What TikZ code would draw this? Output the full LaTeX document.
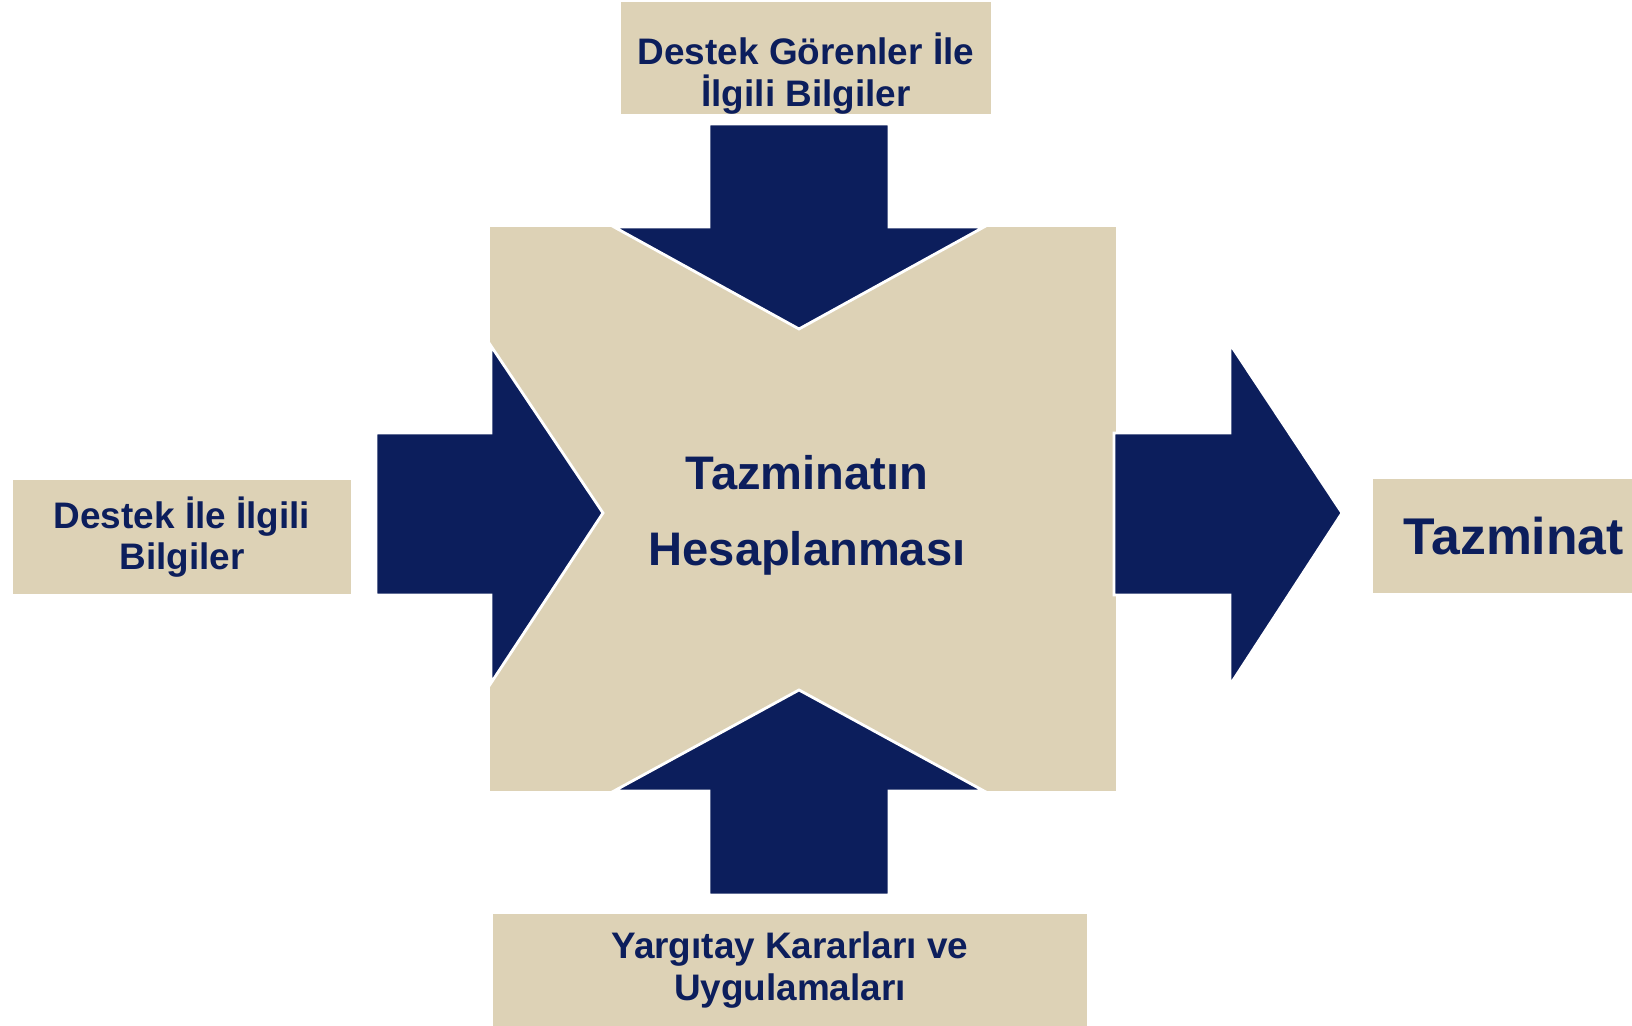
\documentclass[tikz,border=0pt]{standalone}
\usepackage{fontspec}
\setmainfont{Liberation Sans}
\usetikzlibrary{positioning}
\definecolor{navy}{RGB}{12,30,92}
\definecolor{sand}{RGB}{221,210,182}
\tikzstyle{infobox} = [fill=sand, text=navy, align=center, inner sep=0pt,
    font=\bfseries\fontsize{10.5}{11.7}\selectfont]
\tikzstyle{blockarrow} = [fill=navy, draw=white, line width=0.8pt, line join=miter]
\tikzset{boxtext/.style={text=navy, align=center, inner sep=0pt,
    font=\bfseries\fontsize{10.5}{11.7}\selectfont}}

\begin{document}
\begin{tikzpicture}
    \clip (0,0) rectangle (16.32,10.26);
    %center block
    \fill[sand] (4.90,2.35) rectangle (11.16,7.99);
    %arrows
    \draw[blockarrow] (7.09,9.02) -- (8.89,9.02) -- (8.89,7.99) -- (9.84,7.99)
        -- (7.99,6.97) -- (6.14,7.99) -- (7.09,7.99) -- cycle;
    \draw[blockarrow] (7.09,1.31) -- (8.89,1.31) -- (8.89,2.35) -- (9.84,2.35)
        -- (7.99,3.36) -- (6.14,2.35) -- (7.09,2.35) -- cycle;
    \draw[blockarrow] (3.76,4.31) -- (3.76,5.93) -- (4.91,5.93) -- (4.91,6.80)
        -- (6.03,5.13) -- (4.91,3.43) -- (4.91,4.31) -- cycle;
    \draw[blockarrow] (11.14,4.31) -- (11.14,5.93) -- (12.30,5.93) -- (12.30,6.82)
        -- (13.42,5.13) -- (12.30,3.41) -- (12.30,4.31) -- cycle;
    %labels
    \node[text=navy, align=center, font=\bfseries\fontsize{13.4}{21.6}\selectfont]
        (hesap) at (8.07,5.11) {Tazminatın\\Hesaplanması};
    \node[infobox, minimum width=3.70cm, minimum height=1.12cm] (gorenler) at (8.06,9.68) {};
    \node[boxtext, below=-0.82cm of gorenler] (gorenlertext) {Destek Görenler İle\\İlgili Bilgiler};
    \node[infobox, minimum width=3.38cm, minimum height=1.14cm] (destek) at (1.82,4.89)
        {Destek İle İlgili\\Bilgiler};
    \node[infobox, minimum width=5.94cm, minimum height=1.12cm] (yargitay) at (7.90,0.56)
        {Yargıtay Kararları ve\\Uygulamaları};
    \node[infobox, anchor=west, minimum height=1.14cm, text width=2.6cm, align=left,
        inner xsep=0.31cm, font=\bfseries\fontsize{14.7}{16}\selectfont]
        (tazminat) at (13.72,4.90) {Tazminat};
\end{tikzpicture}
\end{document}
